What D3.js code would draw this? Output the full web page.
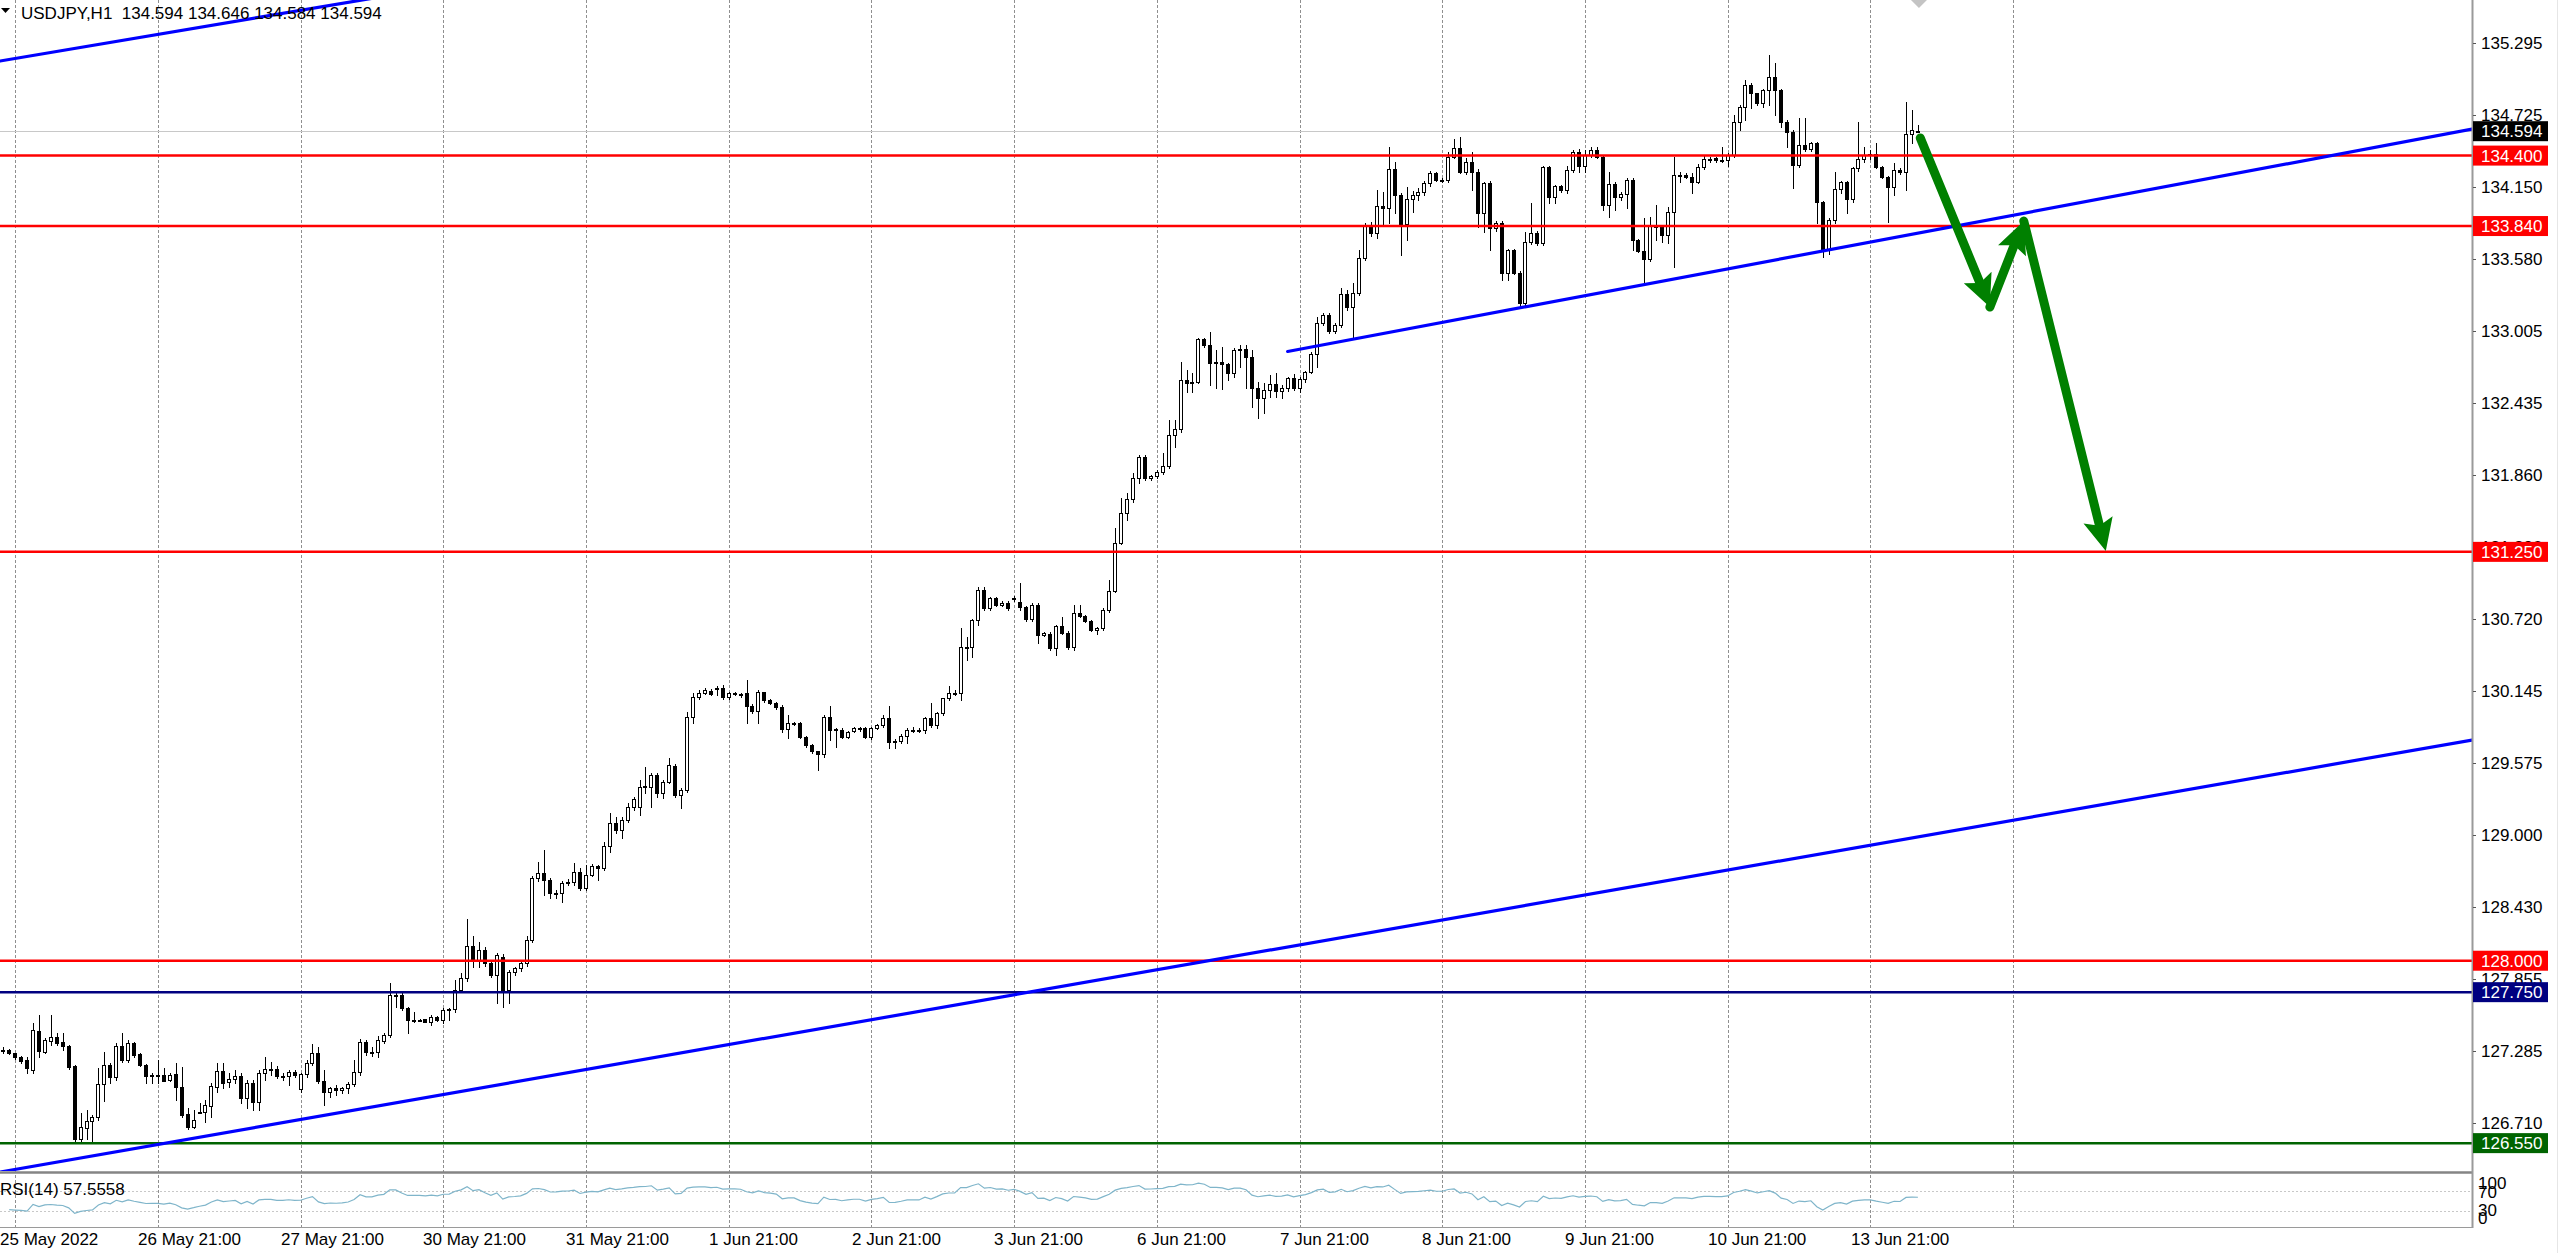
<!DOCTYPE html>
<html>
<head>
<meta charset="utf-8">
<title>USDJPY,H1</title>
<script src="https://cdn.jsdelivr.net/npm/d3@7"></script>
<style>
  html, body { margin: 0; padding: 0; background: #fff; }
  svg { display: block; font-family: "Liberation Sans", Arial, sans-serif; }
</style>
</head>
<body>
<div id="chart"></div>
<script>
// hourly candles, one array per trading day: [open, high, low, close]
const may25 = [
  [127.291,127.317,127.264,127.291],[127.291,127.300,127.260,127.269]
];
const may26 = [
  [127.269,127.270,127.220,127.232],[127.232,127.240,127.190,127.206],[127.211,127.238,127.110,127.145],[127.132,127.503,127.110,127.450],
  [127.444,127.569,127.238,127.285],[127.277,127.383,127.264,127.370],[127.365,127.569,127.330,127.391],[127.391,127.428,127.330,127.344],
  [127.352,127.428,127.290,127.325],[127.325,127.330,127.137,127.158],[127.163,127.171,126.554,126.580],[126.580,126.787,126.554,126.676],
  [126.671,126.814,126.580,126.724],[126.724,126.774,126.554,126.755],[126.755,127.145,126.734,127.018],[127.018,127.277,126.888,127.171],
  [127.171,127.185,127.026,127.073],[127.073,127.344,127.052,127.322],[127.322,127.423,127.198,127.211],[127.211,127.370,127.198,127.349],
  [127.349,127.357,127.238,127.251],[127.259,127.264,127.163,127.169],[127.171,127.180,127.026,127.087],[127.092,127.105,127.026,127.092]
];
const may27 = [
  [127.092,127.211,127.026,127.092],[127.092,127.145,127.040,127.047],[127.052,127.105,127.040,127.092],[127.097,127.185,126.893,126.994],
  [126.994,127.158,126.761,126.774],[126.780,126.827,126.660,126.676],[126.676,126.814,126.668,126.734],[126.800,126.867,126.787,126.800],
  [126.800,126.893,126.721,126.853],[126.846,127.026,126.761,127.004],[126.999,127.185,126.959,127.124],[127.124,127.185,126.986,127.031],
  [127.039,127.105,126.999,127.060],[127.057,127.132,127.026,127.087],[127.087,127.105,126.867,126.906],[126.906,127.052,126.827,127.026],
  [127.026,127.052,126.814,126.875],[126.875,127.132,126.814,127.105],[127.105,127.238,127.052,127.137],[127.137,127.198,127.092,127.137],
  [127.137,127.163,127.065,127.087],[127.087,127.105,127.052,127.087],[127.087,127.132,127.012,127.118],[127.118,127.132,127.079,127.092]
];
const may30 = [
  [126.978,127.105,126.960,127.097],[127.097,127.211,127.079,127.185],[127.185,127.335,127.171,127.264],[127.264,127.317,127.026,127.047],
  [127.047,127.132,126.854,126.959],[126.954,127.000,126.920,126.986],[126.986,127.012,126.933,126.973],[126.973,127.000,126.950,126.986],
  [126.986,127.039,126.946,127.020],[127.020,127.211,127.004,127.113],[127.113,127.375,127.092,127.357],[127.357,127.370,127.251,127.277],
  [127.277,127.317,127.243,127.277],[127.277,127.402,127.238,127.370],[127.365,127.428,127.344,127.410],[127.410,127.820,127.397,127.728],
  [127.728,127.740,127.635,127.728],[127.728,127.740,127.608,127.622],[127.622,127.635,127.423,127.529],[127.529,127.595,127.516,127.529],
  [127.529,127.540,127.520,127.529],[127.534,127.540,127.510,127.516],[127.516,127.568,127.490,127.555],[127.550,127.560,127.520,127.529]
];
const may31 = [
  [127.529,127.622,127.502,127.608],[127.610,127.622,127.530,127.614],[127.614,127.847,127.595,127.767],[127.767,127.900,127.750,127.860],
  [127.860,128.330,127.840,128.120],[128.120,128.200,127.950,128.000],[128.000,128.150,127.950,128.085],[128.085,128.110,127.960,127.979],
  [127.979,127.990,127.870,127.886],[127.886,128.060,127.661,128.045],[128.032,128.050,127.634,127.767],[127.767,127.930,127.661,127.913],
  [127.913,127.950,127.890,127.939],[127.939,127.990,127.920,127.979],[127.979,128.200,127.960,128.164],[128.164,128.670,128.150,128.655],
  [128.655,128.787,128.630,128.694],[128.694,128.880,128.522,128.641],[128.641,128.660,128.495,128.535],[128.535,128.560,128.500,128.540],
  [128.540,128.630,128.469,128.615],[128.615,128.650,128.600,128.628],[128.628,128.774,128.600,128.708],[128.708,128.740,128.560,128.575]
];
const jun01 = [
  [128.575,128.760,128.560,128.681],[128.681,128.770,128.670,128.753],[128.753,128.760,128.641,128.734],[128.734,128.946,128.720,128.912],
  [128.912,129.171,128.867,129.092],[129.092,129.145,129.012,129.039],[129.039,129.145,128.973,129.118],[129.118,129.251,129.100,129.224],
  [129.224,129.304,129.200,129.283],[129.224,129.436,129.158,129.383],[129.383,129.542,129.330,129.388],[129.383,129.490,129.224,129.476],
  [129.476,129.490,129.304,129.330],[129.330,129.440,129.290,129.423],[129.423,129.608,129.410,129.555],[129.547,129.560,129.298,129.317],
  [129.320,129.370,129.211,129.357],[129.357,129.979,129.340,129.940],[129.940,130.125,129.887,130.099],[130.099,130.150,130.080,130.130],
  [130.130,130.170,130.120,130.152],[130.145,130.160,130.110,130.120],[130.165,130.180,130.110,130.165],[130.170,130.190,130.080,130.093]
];
const jun02 = [
  [130.093,130.140,130.080,130.125],[130.125,130.140,130.110,130.120],[130.120,130.130,130.100,130.109],[130.130,130.231,129.887,130.024],
  [130.024,130.040,129.970,129.987],[129.987,130.150,129.887,130.133],[130.133,130.140,130.060,130.072],[130.072,130.080,130.040,130.051],
  [130.051,130.060,130.000,130.019],[130.019,130.030,129.820,129.839],[129.839,129.953,129.767,129.887],[129.887,129.900,129.870,129.887],
  [129.887,129.900,129.770,129.781],[129.781,129.790,129.700,129.714],[129.714,129.720,129.650,129.667],[129.667,129.670,129.516,129.643],
  [129.643,129.950,129.622,129.934],[129.934,130.024,129.754,129.834],[129.834,129.850,129.696,129.840],[129.834,129.850,129.770,129.781],
  [129.781,129.830,129.770,129.820],[129.830,129.860,129.820,129.847],[129.847,129.860,129.830,129.847],[129.847,129.860,129.770,129.781]
];
const jun03 = [
  [129.781,129.860,129.759,129.847],[129.847,129.880,129.840,129.873],[129.873,129.953,129.860,129.926],[129.926,130.024,129.688,129.741],
  [129.741,129.760,129.688,129.746],[129.746,129.800,129.730,129.786],[129.786,129.850,129.728,129.834],[129.834,129.860,129.820,129.834],
  [129.834,129.850,129.820,129.834],[129.834,129.940,129.807,129.926],[129.926,130.046,129.860,129.873],[129.873,129.980,129.847,129.966],
  [129.966,130.090,129.950,130.085],[130.085,130.183,130.070,130.130],[130.130,130.150,130.110,130.130],[130.130,130.642,130.072,130.491],
  [130.491,130.576,130.390,130.495],[130.495,130.720,130.417,130.708],[130.708,130.973,130.668,130.947],[130.947,130.973,130.790,130.801],
  [130.801,130.890,130.790,130.880],[130.880,130.890,130.820,130.827],[130.827,130.860,130.820,130.846],[130.846,130.860,130.790,130.801]
];
const jun06 = [
  [130.875,130.900,130.860,130.880],[130.850,131.000,130.788,130.814],[130.814,130.820,130.700,130.713],[130.713,130.840,130.700,130.827],
  [130.827,130.840,130.523,130.589],[130.589,130.610,130.580,130.602],[130.600,130.610,130.470,130.483],[130.483,130.670,130.430,130.660],
  [130.660,130.735,130.600,130.607],[130.607,130.620,130.480,130.491],[130.491,130.827,130.470,130.766],[130.766,130.827,130.730,130.740],
  [130.740,130.750,130.690,130.703],[130.703,130.710,130.620,130.629],[130.629,130.650,130.600,130.642],[130.642,130.800,130.630,130.788],
  [130.788,131.026,130.770,130.941],[130.941,131.437,130.930,131.323],[131.323,131.675,131.310,131.556],[131.556,131.715,131.503,131.667],
  [131.667,131.874,131.650,131.834],[131.834,132.020,131.795,132.001],[132.001,132.020,131.820,131.834],[131.834,131.860,131.820,131.853]
];
const jun07 = [
  [131.853,131.900,131.840,131.887],[131.887,132.033,131.870,131.932],[131.932,132.298,131.920,132.179],[132.179,132.298,132.086,132.224],
  [132.224,132.762,132.200,132.616],[132.616,132.696,132.523,132.590],[132.590,132.670,132.523,132.603],[132.603,132.947,132.590,132.939],
  [132.939,132.950,132.880,132.894],[132.894,133.000,132.576,132.754],[132.754,132.855,132.550,132.762],[132.762,132.881,132.542,132.741],
  [132.741,132.750,132.616,132.669],[132.669,132.870,132.643,132.855],[132.855,132.894,132.722,132.860],[132.860,132.894,132.550,132.796],
  [132.796,132.855,132.404,132.550],[132.550,132.603,132.311,132.470],[132.470,132.590,132.351,132.537],[132.537,132.656,132.480,132.584],
  [132.584,132.670,132.480,132.531],[132.531,132.576,132.470,132.550],[132.550,132.640,132.530,132.629],[132.629,132.660,132.540,132.550]
];
const jun08 = [
  [132.550,132.640,132.520,132.621],[132.621,132.690,132.600,132.682],[132.682,132.835,132.670,132.823],[132.823,133.120,132.722,133.067],
  [133.067,133.150,133.050,133.133],[133.133,133.150,132.990,133.008],[133.008,133.070,132.990,133.053],[133.053,133.350,133.040,133.300],
  [133.300,133.330,133.170,133.199],[133.199,133.385,132.961,133.305],[133.305,133.650,133.290,133.583],[133.583,133.862,133.570,133.848],
  [133.848,133.875,133.760,133.782],[133.782,134.127,133.742,133.999],[133.999,134.114,133.850,133.981],[133.981,134.471,133.862,134.291],
  [134.291,134.352,133.941,134.087],[134.087,134.100,133.610,133.856],[133.856,134.153,133.729,134.052],[134.052,134.120,133.950,134.087],
  [134.087,134.140,134.050,134.113],[134.113,134.200,134.090,134.180],[134.180,134.280,134.160,134.259],[134.259,134.270,134.200,134.206]
];
const jun09 = [
  [134.206,134.220,134.190,134.206],[134.206,134.430,134.190,134.392],[134.392,134.529,134.380,134.458],[134.458,134.551,134.260,134.272],
  [134.272,134.380,134.250,134.352],[134.352,134.430,134.127,134.272],[134.272,134.290,133.835,133.941],[133.941,134.190,133.795,134.180],
  [134.180,134.200,133.650,133.822],[133.822,133.880,133.800,133.867],[133.867,133.880,133.411,133.469],[133.469,133.660,133.411,133.650],
  [133.650,133.660,133.460,133.469],[133.469,133.480,133.199,133.226],[133.226,133.795,133.210,133.716],[133.716,134.021,133.700,133.787],
  [133.787,133.800,133.690,133.703],[133.703,134.315,133.690,134.307],[134.307,134.315,134.021,134.074],[134.074,134.170,134.021,134.158],
  [134.158,134.170,134.110,134.127],[134.127,134.315,134.100,134.286],[134.286,134.445,134.270,134.431],[134.431,134.450,134.272,134.317]
];
const jun10 = [
  [134.317,134.445,134.272,134.405],[134.405,134.470,134.390,134.445],[134.445,134.470,134.380,134.392],[134.392,134.400,133.968,134.007],
  [134.007,134.272,133.915,134.174],[134.174,134.190,133.968,134.068],[134.068,134.110,134.050,134.095],[134.095,134.220,133.980,134.206],
  [134.206,134.220,133.650,133.729],[133.729,133.740,133.630,133.644],[133.644,133.900,133.390,133.580],[133.580,133.915,133.560,133.840],
  [133.840,134.007,133.730,133.835],[133.835,133.850,133.716,133.769],[133.769,133.994,133.703,133.954],[133.954,134.392,133.517,134.246],
  [134.246,134.272,134.190,134.246],[134.246,134.260,134.220,134.233],[134.233,134.260,134.100,134.193],[134.193,134.330,134.180,134.312],
  [134.312,134.405,134.290,134.370],[134.370,134.390,134.350,134.370],[134.378,134.390,134.350,134.365],[134.365,134.471,134.350,134.365]
];
const jun13 = [
  [134.365,134.420,134.317,134.405],[134.405,134.723,134.390,134.670],[134.670,134.800,134.604,134.789],[134.789,135.001,134.683,134.961],
  [134.961,134.980,134.776,134.895],[134.895,134.900,134.800,134.816],[134.816,134.930,134.790,134.922],[134.922,135.200,134.802,135.028],
  [135.028,135.134,134.723,134.922],[134.922,134.930,134.630,134.670],[134.670,134.680,134.471,134.590],[134.590,134.600,134.140,134.325],
  [134.325,134.696,134.310,134.484],[134.484,134.696,134.440,134.450],[134.450,134.510,134.440,134.498],[134.498,134.510,133.862,134.034],
  [134.034,134.040,133.597,133.650],[133.650,133.900,133.620,133.888],[133.888,134.272,133.862,134.132],[134.132,134.200,134.100,134.193],
  [134.193,134.200,133.941,134.052],[134.052,134.310,134.030,134.299],[134.299,134.670,134.280,134.370],[134.370,134.471,134.350,134.405]
];
const jun14 = [
  [134.405,134.445,134.370,134.410],[134.410,134.498,134.300,134.312],[134.312,134.320,134.220,134.233],[134.233,134.240,133.875,134.153],
  [134.153,134.339,134.087,134.286],[134.286,134.300,134.250,134.272],[134.272,134.829,134.127,134.572],[134.572,134.763,134.498,134.604],
  [134.594,134.646,134.584,134.594]
];
const sessions = [may25, may26, may27, may30, may31, jun01, jun02, jun03, jun06, jun07, jun08, jun09, jun10, jun13, jun14];

const timeLabels = ["25 May 2022", "26 May 21:00", "27 May 21:00", "30 May 21:00", "31 May 21:00", "1 Jun 21:00", "2 Jun 21:00",
  "3 Jun 21:00", "6 Jun 21:00", "7 Jun 21:00", "8 Jun 21:00", "9 Jun 21:00", "10 Jun 21:00", "13 Jun 21:00"];
const timeLabelBars = [0, 23, 47, 71, 95, 119, 143, 167, 191, 215, 239, 263, 287, 311];

const priceTicks = [135.295, 134.725, 134.150, 133.580, 133.005, 132.435, 131.860, 131.290, 130.720,
  130.145, 129.575, 129.000, 128.430, 127.855, 127.285, 126.710];

const levelPrices = [134.400, 133.840, 131.250, 128.000, 127.750, 126.550];

// trend lines as [bar, price] anchors
const channelTop = [[0, 135.156], [60, 135.634]];
const channelBottom = [[0, 126.325], [400, 129.629]];
const riseSupport = [[216, 132.843], [415, 134.609]];
const forecastPath = [[322.4, 134.540], [334.1, 133.196], [339.8, 133.880], [353.6, 131.257]];

const rsiLevels = [70, 30];
const rsiAxisLabels = [100, 70, 30, 0];
const rsiReadout = "57.5558";

// ---- layout ----
const W = 2560, H = 1253;
const plotRight = 2472, mainBottom = 1171;
const rsiTop = 1176, rsiBottom = 1226, rsiPanelBottom = 1227;
const barStep = 5.946, firstBarX = 3.3;
const levelColors = ["#ff0000", "#ff0000", "#ff0000", "#ff0000", "#000080", "#006400"];

const candles = sessions.flat();
const n = candles.length;

const x = d3.scaleLinear().domain([0, n - 1]).range([firstBarX, firstBarX + barStep * (n - 1)]);
const y = d3.scaleLinear().domain([126.710, 135.295]).range([1123, 43]);
const yr = d3.scaleLinear().domain([0, 100]).range([rsiBottom, rsiTop]);

const svg = d3.select("#chart").append("svg")
    .attr("width", W)
    .attr("height", H);

svg.append("rect").attr("width", W).attr("height", H).attr("fill", "#fff");

svg.append("defs").append("clipPath").attr("id", "mainClip")
  .append("rect").attr("x", 0).attr("y", 0).attr("width", plotRight).attr("height", mainBottom);

// day separators: start of each full session, plus one more day ahead
const gridBars = [];
let start = 0;
sessions.forEach((s, k) => { if (k > 0) gridBars.push(start); start += s.length; });
gridBars.push(gridBars[gridBars.length - 1] + 24);

svg.append("g").selectAll("line")
  .data(gridBars)
  .join("line")
    .attr("x1", d => Math.round(x(d)) + 0.5)
    .attr("x2", d => Math.round(x(d)) + 0.5)
    .attr("y1", 0)
    .attr("y2", rsiPanelBottom)
    .attr("stroke", "#8f8f8f")
    .attr("stroke-width", 1)
    .attr("stroke-dasharray", "3,2");

const main = svg.append("g").attr("clip-path", "url(#mainClip)");

// current bid line
const lastBar = candles[n - 1];
main.append("line")
  .attr("x1", 0).attr("x2", plotRight)
  .attr("y1", Math.round(y(lastBar[3])) + 0.5).attr("y2", Math.round(y(lastBar[3])) + 0.5)
  .attr("stroke", "#c8c8c8").attr("stroke-width", 1);

// candles
const candle = main.append("g").attr("shape-rendering", "crispEdges")
  .selectAll("g")
  .data(candles)
  .join("g");

candle.append("line")
  .attr("x1", (d, i) => Math.round(x(i)) + 0.5)
  .attr("x2", (d, i) => Math.round(x(i)) + 0.5)
  .attr("y1", d => Math.round(y(d[1])))
  .attr("y2", d => Math.round(y(d[2])) + 1)
  .attr("stroke", "#000")
  .attr("stroke-width", 1);

candle.append("rect")
  .attr("x", (d, i) => Math.round(x(i)) - 1.5)
  .attr("width", 3)
  .attr("y", d => Math.round(y(Math.max(d[0], d[3]))) + 0.5)
  .attr("height", d => Math.max(1, Math.round(y(Math.min(d[0], d[3]))) - Math.round(y(Math.max(d[0], d[3])))))
  .attr("fill", d => d[3] >= d[0] ? "#fff" : "#000")
  .attr("stroke", "#000")
  .attr("stroke-width", 1);

// horizontal levels
main.append("g").selectAll("line")
  .data(levelPrices)
  .join("line")
    .attr("x1", 0).attr("x2", plotRight)
    .attr("y1", d => y(d)).attr("y2", d => y(d))
    .attr("stroke", (d, i) => levelColors[i])
    .attr("stroke-width", 2.5);

// trend lines
function lineAt(anchors, bar) {
  const [[b1, p1], [b2, p2]] = anchors;
  return p1 + (p2 - p1) * (bar - b1) / (b2 - b1);
}
const rightBar = x.invert(plotRight);
const leftBar = x.invert(0);
[[channelTop, leftBar], [channelBottom, leftBar], [riseSupport, riseSupport[0][0]]].forEach(([a, from]) => {
  main.append("line")
    .attr("x1", x(from)).attr("y1", y(lineAt(a, from)))
    .attr("x2", x(rightBar)).attr("y2", y(lineAt(a, rightBar)))
    .attr("stroke", "#0000ff")
    .attr("stroke-width", 3.2)
    .attr("stroke-linecap", "round");
});

// forecast arrows
const arrowPts = forecastPath.map(([b, p]) => [x(b), y(p)]);
const arrows = main.append("g");
for (let s = 0; s < arrowPts.length - 1; s++) {
  const [x1, y1] = arrowPts[s], [x2, y2] = arrowPts[s + 1];
  const len = Math.hypot(x2 - x1, y2 - y1);
  const ux = (x2 - x1) / len, uy = (y2 - y1) / len;
  const headLen = 32, headHalf = 15, notch = 6;
  const bx = x2 - ux * headLen, by = y2 - uy * headLen;
  arrows.append("line")
    .attr("x1", x1).attr("y1", y1)
    .attr("x2", bx + ux * notch).attr("y2", by + uy * notch)
    .attr("stroke", "#008000")
    .attr("stroke-width", 9)
    .attr("stroke-linecap", "round");
  arrows.append("path")
    .attr("d", `M${x2},${y2} L${bx - uy * headHalf},${by + ux * headHalf} L${bx + ux * notch},${by + uy * notch} L${bx + uy * headHalf},${by - ux * headHalf} Z`)
    .attr("fill", "#008000");
}

// chart shift marker
main.append("path")
  .attr("d", `M${x(n - 1) + 1},${8} l-9,-9 l18,0 z`)
  .attr("fill", "#c4c4c4");

// header
svg.append("path").attr("d", "M1,8 L10,8 L5.5,13 Z").attr("fill", "#000");
svg.append("text")
  .attr("x", 21).attr("y", 18.5)
  .attr("font-size", 17)
  .style("white-space", "pre")
  .text(`USDJPY,H1  ${lastBar.map(v => v.toFixed(3)).join(" ")}`);

// panel frames
svg.append("line").attr("x1", 0).attr("x2", plotRight).attr("y1", 1172.5).attr("y2", 1172.5)
  .attr("stroke", "#858585").attr("stroke-width", 2.5);
svg.append("line").attr("x1", 0).attr("x2", plotRight).attr("y1", rsiPanelBottom + 0.5).attr("y2", rsiPanelBottom + 0.5)
  .attr("stroke", "#9a9a9a").attr("stroke-width", 1);
svg.append("line").attr("x1", plotRight + 0.5).attr("x2", plotRight + 0.5).attr("y1", 0).attr("y2", rsiPanelBottom + 1)
  .attr("stroke", "#9a9a9a").attr("stroke-width", 2);
svg.append("line").attr("x1", 2557.5).attr("x2", 2557.5).attr("y1", 0).attr("y2", H)
  .attr("stroke", "#e6e6e6").attr("stroke-width", 1);

// price axis
const pAxis = svg.append("g").attr("font-size", 17).attr("fill", "#000");
priceTicks.forEach(p => {
  pAxis.append("line")
    .attr("x1", plotRight + 1).attr("x2", plotRight + 4)
    .attr("y1", Math.round(y(p)) + 0.5).attr("y2", Math.round(y(p)) + 0.5)
    .attr("stroke", "#555");
  pAxis.append("text").attr("x", 2481).attr("y", y(p) + 6).text(p.toFixed(3));
});

const tags = levelPrices.map((p, i) => ({ p, color: levelColors[i] }))
  .concat([{ p: lastBar[3], color: "#000" }]);
tags.forEach(t => {
  pAxis.append("rect")
    .attr("x", plotRight + 1).attr("y", y(t.p) - 10)
    .attr("width", 75).attr("height", 20)
    .attr("fill", t.color);
  pAxis.append("text")
    .attr("x", 2481).attr("y", y(t.p) + 6)
    .attr("fill", "#fff")
    .text(t.p.toFixed(3));
});

// RSI(14) on the closes above, Wilder smoothing seeded with the first 14 changes
const closes = candles.map(d => d[3]);
const changes = closes.slice(1).map((c, i) => c - closes[i]);
let avgUp = d3.mean(changes.slice(0, 14), c => Math.max(c, 0));
let avgDown = d3.mean(changes.slice(0, 14), c => Math.max(-c, 0));
const rsi = changes.map((ch, i) => {
  avgUp = (avgUp * 13 + Math.max(ch, 0)) / 14;
  avgDown = (avgDown * 13 + Math.max(-ch, 0)) / 14;
  return [i + 1, avgDown === 0 ? 100 : 100 - 100 / (1 + avgUp / avgDown)];
});

svg.append("g").selectAll("line")
  .data(rsiLevels)
  .join("line")
    .attr("x1", 0).attr("x2", plotRight)
    .attr("y1", d => Math.round(yr(d)) + 0.5).attr("y2", d => Math.round(yr(d)) + 0.5)
    .attr("stroke", "#c8c8c8")
    .attr("stroke-dasharray", "2,2");

svg.append("path")
  .datum(rsi)
  .attr("d", d3.line().x(d => x(d[0])).y(d => yr(d[1])))
  .attr("fill", "none")
  .attr("stroke", "#7fb5ca")
  .attr("stroke-width", 1.2);

svg.append("text")
  .attr("x", 0).attr("y", 1195)
  .attr("font-size", 17)
  .text(`RSI(14) ${rsiReadout}`);

const rAxis = svg.append("g").attr("font-size", 17).attr("fill", "#000");
const rsiLabelY = { 100: 1189, 70: 1198, 30: 1216, 0: 1224 };
rsiAxisLabels.forEach(v => {
  rAxis.append("text").attr("x", 2478).attr("y", rsiLabelY[v]).text(v);
});

// time axis
svg.append("g").attr("font-size", 17).attr("fill", "#000")
  .selectAll("text")
  .data(timeLabels)
  .join("text")
    .attr("x", (d, i) => i === 0 ? 0 : Math.round(x(timeLabelBars[i])) - 2)
    .attr("y", 1245)
    .text(d => d);

console.log("bars drawn:", n);
</script>
</body>
</html>
